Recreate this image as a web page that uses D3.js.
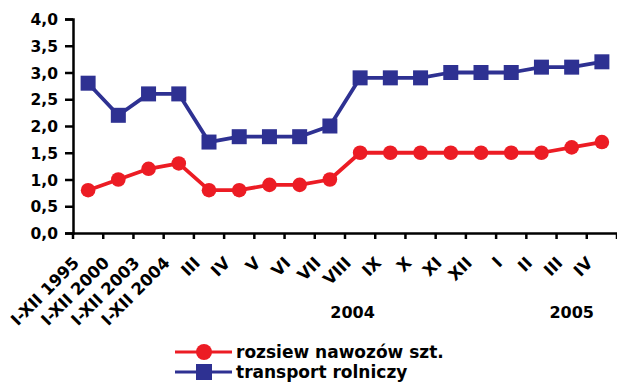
<!DOCTYPE html>
<html><head><meta charset="utf-8">
<script src="https://cdn.jsdelivr.net/npm/d3@7"></script>
<style>body{margin:0;background:#fff}svg{display:block}text{font-family:"DejaVu Sans",sans-serif;font-weight:bold;fill:#000}</style>
</head><body><svg id="c" width="617" height="387"></svg>
<script>
const categories = ["I-XII 1995","I-XII 2000","I-XII 2003","I-XII 2004","III","IV","V","VI","VII","VIII","IX","X","XI","XII","I","II","III","IV"];
const rozsiew = [0.8,1.0,1.2,1.3,0.8,0.8,0.9,0.9,1.0,1.5,1.5,1.5,1.5,1.5,1.5,1.5,1.6,1.7];
const transport = [2.8,2.2,2.6,2.6,1.7,1.8,1.8,1.8,2.0,2.9,2.9,2.9,3.0,3.0,3.0,3.1,3.1,3.2];
const yTicks = [0,0.5,1,1.5,2,2.5,3,3.5,4];
const yearLabels = [{text:"2004", at:8.75},{text:"2005", at:16}];
const seriesNames = ["rozsiew nawozów szt.","transport rolniczy"];
const colors = ["#ec1c24","#2e3192"];

const svg = d3.select("#c");
const mL = 73, mR = 617, mT = 19, mB = 233;
const idx = categories.map((d,i)=>i);
const x = d3.scaleBand().domain(idx).range([mL,mR]).padding(0);
const y = d3.scaleLinear().domain([0,4]).range([mB,mT]);
const fmt = d => d.toFixed(1).replace(".",",");

// Y axis
const ya = svg.append("g").attr("transform",`translate(${mL},0)`)
  .call(d3.axisLeft(y).tickValues(yTicks).tickFormat(fmt).tickSize(8).tickPadding(7));
ya.select(".domain").attr("stroke","#000").attr("stroke-width",2.5);
ya.selectAll(".tick line").attr("stroke","#000").attr("stroke-width",2.5);
ya.selectAll(".tick text").style("font-size","15.5px").attr("dy","0.36em");

// X axis
const xa = svg.append("g").attr("transform",`translate(0,${mB})`)
  .call(d3.axisBottom(x).tickFormat("").tickSize(0));
xa.select(".domain").attr("stroke","#000").attr("stroke-width",2.5);
xa.selectAll(".tick").remove();
xa.selectAll(".bt").data(idx.concat([categories.length])).enter().append("line")
  .attr("x1",i=>mL + i*x.step()).attr("x2",i=>mL + i*x.step())
  .attr("y1",0).attr("y2",6).attr("stroke","#000").attr("stroke-width",2.5);

// rotated category labels
svg.append("g").selectAll("text").data(categories).enter().append("text")
  .attr("transform",(d,i)=>`translate(${x(i)+x.bandwidth()/2-8},${mB+31}) rotate(-45)`)
  .attr("text-anchor","end").style("font-size","16.5px").text(d=>d);

// year labels
svg.append("g").selectAll("text").data(yearLabels).enter().append("text")
  .attr("x",d=>mL + (d.at+0.5)*x.step()).attr("y",318)
  .attr("text-anchor","middle").style("font-size","16px").text(d=>d.text);

// lines
const line = d3.line().x((d,i)=>x(i)+x.bandwidth()/2).y(d=>y(d));
[rozsiew,transport].forEach((s,k)=>{
  svg.append("path").datum(s).attr("d",line).attr("fill","none")
    .attr("stroke",colors[k]).attr("stroke-width",3.8).attr("stroke-linejoin","round");
});
svg.append("g").selectAll("circle").data(rozsiew).enter().append("circle")
  .attr("cx",(d,i)=>x(i)+x.bandwidth()/2).attr("cy",d=>y(d)).attr("r",7.3).attr("fill",colors[0]);
const sq = 15;
svg.append("g").selectAll("rect").data(transport).enter().append("rect")
  .attr("x",(d,i)=>x(i)+x.bandwidth()/2-sq/2).attr("y",d=>y(d)-sq/2)
  .attr("width",sq).attr("height",sq).attr("fill",colors[1]);

// legend
const lg = svg.append("g");
seriesNames.forEach((n,k)=>{
  const ly = 352 + k*20;
  lg.append("line").attr("x1",175).attr("x2",232).attr("y1",ly).attr("y2",ly)
    .attr("stroke",colors[k]).attr("stroke-width",3);
  if(k===0) lg.append("circle").attr("cx",204).attr("cy",ly).attr("r",8).attr("fill",colors[0]);
  else lg.append("rect").attr("x",196).attr("y",ly-8).attr("width",16).attr("height",16).attr("fill",colors[1]);
  lg.append("text").attr("x",236).attr("y",ly).attr("dy","0.36em").style("font-size","17px").text(n);
});
</script></body></html>
